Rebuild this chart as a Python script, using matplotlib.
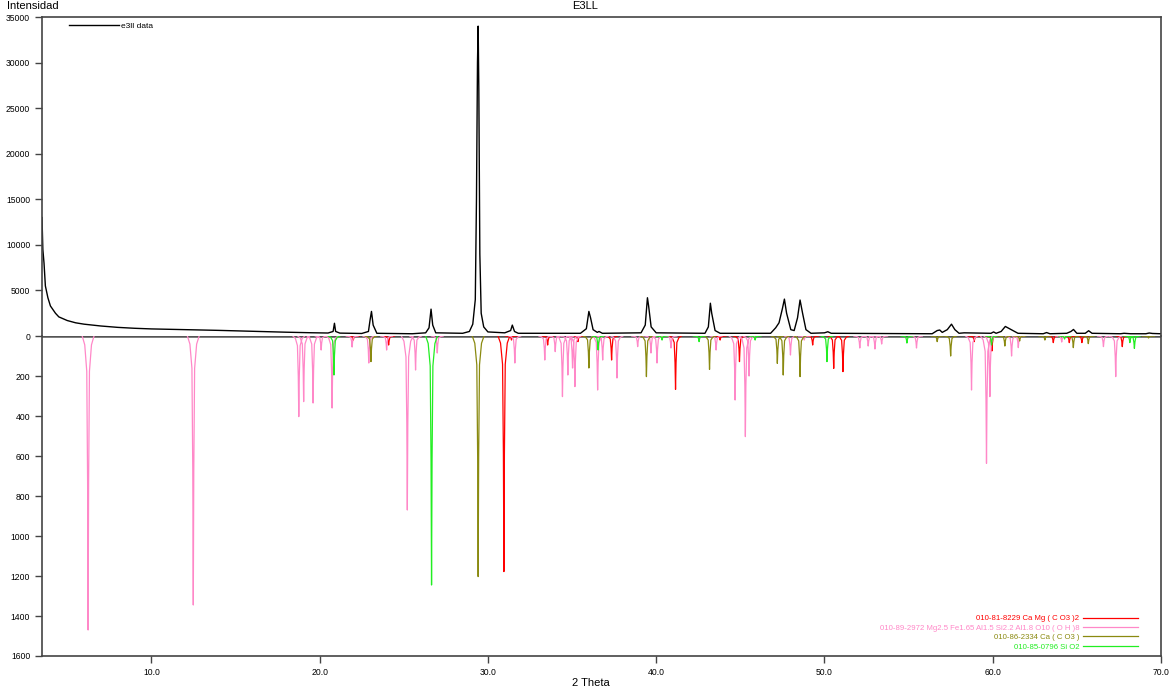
import matplotlib
matplotlib.use('Agg')
import matplotlib.pyplot as plt
import numpy as np

plt.rcParams['font.family'] = ['Liberation Sans', 'DejaVu Sans']

# measured pattern (2 theta, counts)
obs_theta = [3.50, 3.55, 3.62, 3.70, 3.85, 4.00, 4.30, 4.50, 5.00, 5.50, 6.00, 7.00, 8.00, 9.00,
             10.0, 12.0, 14.0, 16.0, 18.0, 19.5, 20.5, 20.80, 20.88, 20.95, 21.2, 22.5, 22.9, 23.0,
             23.08, 23.18, 23.4, 25.5, 26.3, 26.5, 26.62, 26.72, 26.9, 28.5, 28.9, 29.1, 29.25, 29.32,
             29.38, 29.42, 29.46, 29.52, 29.60, 29.75, 30.0, 31.0, 31.35, 31.45, 31.58, 31.8, 35.5,
             35.85, 36.0, 36.1, 36.25, 36.5, 36.6, 36.8, 39.1, 39.35, 39.48, 39.55, 39.7, 40.0, 42.9,
             43.1, 43.22, 43.3, 43.5, 43.8, 46.8, 47.1, 47.3, 47.5, 47.62, 47.75, 48.0, 48.2, 48.4,
             48.55, 48.7, 48.9, 49.2, 50.0, 50.2, 50.4, 56.4, 56.7, 56.85, 57.0, 57.3, 57.55, 57.75,
             58.0, 58.3, 59.9, 60.05, 60.2, 60.5, 60.75, 61.0, 61.3, 61.5, 63.0, 63.2, 63.4, 64.4,
             64.65, 64.8, 65.0, 65.5, 65.7, 65.9, 67.6, 67.8, 68.2, 69.1, 69.3, 69.5, 70.0]
obs_counts = [13000, 9500, 8000, 5500, 4200, 3300, 2500, 2100, 1700, 1450, 1300, 1100, 950, 850,
              780, 700, 620, 520, 420, 360, 330, 500, 1400, 500, 320, 280, 500, 1800,
              2700, 1200, 300, 250, 350, 900, 2950, 1200, 350, 300, 500, 1300, 4000, 15000,
              30000, 34000, 27000, 9000, 2500, 1000, 450, 350, 600, 1200, 500, 300, 300,
              800, 2700, 2000, 700, 400, 500, 300, 350, 1200, 4200, 3300, 1000, 350, 300,
              1000, 3600, 2500, 600, 300, 300, 900, 1450, 3000, 4050, 2500, 700, 600, 2000,
              3950, 2500, 700, 300, 350, 470, 300, 250, 600, 660, 400, 700, 1300, 700,
              300, 350, 300, 450, 300, 500, 1050, 800, 500, 300, 250, 380, 250, 300,
              500, 720, 300, 300, 580, 300, 250, 300, 250, 250, 330, 280, 250]

# reference cards (2 theta, intensity)
dolomite_theta = [22.0, 24.1, 30.95, 31.4, 33.55, 35.35, 37.35, 41.15, 43.8, 44.95, 49.3, 50.55,
                  51.1, 58.9, 59.95, 63.6, 64.55, 65.3, 67.7]
dolomite_int = [20, 45, 1178, 20, 45, 28, 120, 267, 20, 128, 45, 162, 178, 28, 75, 33, 33, 33, 53]

chlorite_theta = [6.24, 12.49, 18.76, 19.05, 19.61, 20.09, 20.74, 21.93, 22.92, 23.98, 25.21,
                  25.70, 26.99, 31.6, 33.38, 34.0, 34.43, 34.75, 35.03, 35.17, 36.52, 36.82,
                  37.67, 38.9, 39.69, 40.05, 40.88, 43.56, 44.69, 45.3, 45.52, 47.98, 48.8,
                  52.1, 52.6, 53.0, 53.4, 55.47, 58.74, 59.63, 59.83, 61.12, 61.52, 64.1,
                  66.58, 67.31]
chlorite_int = [1470, 1345, 403, 328, 335, 70, 360, 55, 135, 70, 870,
                170, 85, 135, 120, 78, 303, 195, 160, 253, 270, 120,
                210, 53, 85, 135, 60, 70, 320, 503, 200, 95, 20,
                60, 50, 65, 40, 60, 270, 637, 303, 100, 58, 30,
                53, 203]

calcite_theta = [23.05, 29.42, 36.0, 39.42, 43.17, 47.2, 47.55, 48.55, 56.7, 57.5, 60.72, 61.6,
                 63.1, 64.79, 65.68, 69.26]
calcite_int = [128, 1203, 160, 203, 167, 137, 195, 203, 28, 100, 50, 25, 20, 58, 38, 10]

quartz_theta = [20.85, 26.65, 36.55, 40.35, 42.55, 45.88, 50.15, 54.9, 59.93, 64.27, 68.15, 68.42]
quartz_int = [195, 1245, 70, 20, 28, 20, 128, 35, 45, 15, 33, 62]

# drawn peak profile (offset in degrees, fraction of height)
shape_dx = np.array([-0.35, -0.2, -0.08, -0.03, 0, 0.03, 0.08, 0.2, 0.35])
shape_fr = np.array([0, 0.03, 0.12, 0.5, 1, 0.5, 0.12, 0.03, 0])


def stick_profile(theta, inten):
    xs, ys = [], []
    for t, h in zip(theta, inten):
        xs += list(t + shape_dx) + [np.nan]
        ys += list(h * shape_fr) + [np.nan]
    return xs, ys


fig = plt.figure(figsize=(11.7, 6.89), dpi=100)
ax_top = fig.add_axes([0.0359, 0.5123, 0.9564, 0.4630])
ax_bot = fig.add_axes([0.0359, 0.0479, 0.9564, 0.4644], sharex=ax_top)

ax_top.plot(obs_theta, obs_counts, color='black', lw=1.0, label='e3ll data')
ax_top.set_ylim(0, 35000)
ax_top.set_yticks(range(5000, 35001, 5000))
ax_top.set_xlim(3.5, 70.0)
ax_top.tick_params(axis='x', bottom=False, labelbottom=False)
ax_top.spines['bottom'].set_visible(False)
ax_top.legend(loc='upper left', frameon=False, fontsize=6, handlelength=6.0,
              handletextpad=0.2, borderaxespad=0.2, bbox_to_anchor=(0.02, 1.0))

phases = [
    (dolomite_theta, dolomite_int, '#ff0000', '010-81-8229 Ca Mg ( C O3 )2'),
    (chlorite_theta, chlorite_int, '#ff88c8', '010-89-2972 Mg2.5 Fe1.65 Al1.5 Si2.2 Al1.8 O10 ( O H )8'),
    (calcite_theta, calcite_int, '#8a8a10', '010-86-2334 Ca ( C O3 )'),
    (quartz_theta, quartz_int, '#22ee22', '010-85-0796 Si O2'),
]
for theta, inten, col, lab in phases:
    xs, ys = stick_profile(theta, inten)
    ax_bot.plot(xs, ys, color=col, lw=0.9, label=lab)

ax_bot.set_ylim(1600, 0)
ax_bot.set_yticks(range(0, 1601, 200))
ax_bot.set_xticks(np.arange(10, 71, 10))
ax_bot.set_xticklabels(['%.1f' % v for v in np.arange(10, 71, 10)])
ax_bot.spines['top'].set_visible(False)
ax_bot.axhline(0, color='#555555', lw=1.8, zorder=0)
ax_bot.legend(loc='lower right', frameon=False, fontsize=5.6, markerfirst=False,
              labelcolor='linecolor', handlelength=7.0, handletextpad=0.5,
              labelspacing=0.25, borderaxespad=0.3, bbox_to_anchor=(0.984, 0.0))

for ax in (ax_top, ax_bot):
    for s in ax.spines.values():
        s.set_color('#444444')
        s.set_linewidth(1.2)
    ax.tick_params(labelsize=6.2, length=5, width=1, color='#444444')

fig.text(0.5, 0.999, 'E3LL', ha='center', va='top', fontsize=8)
fig.text(0.006, 0.999, 'Intensidad', ha='left', va='top', fontsize=8)
fig.text(0.505, 0.002, '2 Theta', ha='center', va='bottom', fontsize=8)

fig.savefig('out.png', dpi=100)
